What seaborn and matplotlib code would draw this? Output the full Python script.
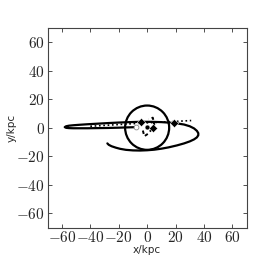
import matplotlib
matplotlib.use("Agg")
import matplotlib.pyplot as plt
import seaborn as sns
import numpy as np
from matplotlib.patches import Circle
from matplotlib.ticker import FuncFormatter, MultipleLocator

# ---- data ----
orbit_x = [-7, -14, -20, -28, -35, -42, -48, -52, -55, -57, -58, -57, -55, -52, -48, -42, -35,
           -28, -20, -12, -5, 3, 10, 16, 21, 26, 30, 33, 35, 36, 36, 35, 33, 30, 26, 21, 15,
           10, 5, 0, -5, -10, -15, -19, -22, -25, -27, -28]
orbit_y = [0.4, 0.2, 0.0, -0.2, -0.3, -0.4, -0.4, -0.4, -0.3, -0.1, 0.4, 1.0, 1.4, 1.7, 2.0, 2.4, 2.8,
           3.2, 3.6, 3.9, 4.1, 4.1, 3.9, 3.5, 3.0, 2.2, 1.0, -0.5, -2.2, -3.8, -5.3, -6.8, -8.2, -9.6,
           -11.0, -12.4, -13.8, -14.7, -15.4, -15.8, -16.0, -15.9, -15.5, -14.8, -14.0, -13.0, -12.0, -11.0]

dot_x = [-40, -30, -20, -10, 0, 10, 20, 31]
dot_y = [1.0, 1.6, 2.2, 2.8, 3.4, 3.9, 4.4, 5.0]

inner_x = [-3, -2, 1, 4, 5, 4, 1]
inner_y = [-2, -6, -4, 0, 2, 7, 6]

circle_center = (0, 0)
circle_r = 15.5

marker_x = [-4, 19, 4]
marker_y = [4, 3, 0]
center_x = [0]
center_y = [0.5]
start_x = [-8]
start_y = [0.5]

xticks = [-60, -40, -20, 0, 20, 40, 60]
yticks = [-60, -40, -20, 0, 20, 40, 60]

# ---- style ----
sns.set_style("ticks")
plt.rcParams.update({
    "mathtext.fontset": "cm",
    "font.family": ["DejaVu Sans"],
    "xtick.direction": "in",
    "ytick.direction": "in",
    "xtick.top": True,
    "ytick.right": True,
})

fig = plt.figure(figsize=(2.74, 2.74), dpi=100)
ax = fig.add_axes([0.174, 0.169, 0.726, 0.730])

sns.lineplot(x=orbit_x, y=orbit_y, sort=False, estimator=None, color="black", lw=1.6, ax=ax)
sns.lineplot(x=dot_x, y=dot_y, sort=False, estimator=None, color="black", lw=1.2,
             linestyle=(0, (1, 1.6)), ax=ax)
sns.lineplot(x=inner_x, y=inner_y, sort=False, estimator=None, color="black", lw=1.4,
             linestyle=(0, (1.8, 1.6)), ax=ax)
ax.add_patch(Circle(circle_center, circle_r, fill=False, color="black", lw=1.6))
sns.scatterplot(x=marker_x, y=marker_y, marker="D", s=18, color="black", ax=ax, zorder=5)
sns.scatterplot(x=center_x, y=center_y, marker="o", s=12, color="black", ax=ax, zorder=5)
sns.scatterplot(x=start_x, y=start_y, marker="o", s=12, facecolor="white",
                edgecolor="#888888", linewidth=0.6, ax=ax, zorder=5)

ax.set_xlim(-70, 70)
ax.set_ylim(-70, 70)
ax.set_xticks(xticks)
ax.set_yticks(yticks)
fmt = FuncFormatter(lambda v, p: r"$%d$" % v)
ax.xaxis.set_major_formatter(fmt)
ax.yaxis.set_major_formatter(fmt)
ax.tick_params(axis="both", labelsize=11, length=3, width=0.6, color="#333333", pad=2)
for s in ax.spines.values():
    s.set_color("#444444")
    s.set_linewidth(0.8)
ax.set_xlabel("x/kpc", fontsize=7.5, labelpad=0)
ax.set_ylabel("y/kpc", fontsize=7.5, labelpad=0)

fig.savefig("out.png", dpi=100)
